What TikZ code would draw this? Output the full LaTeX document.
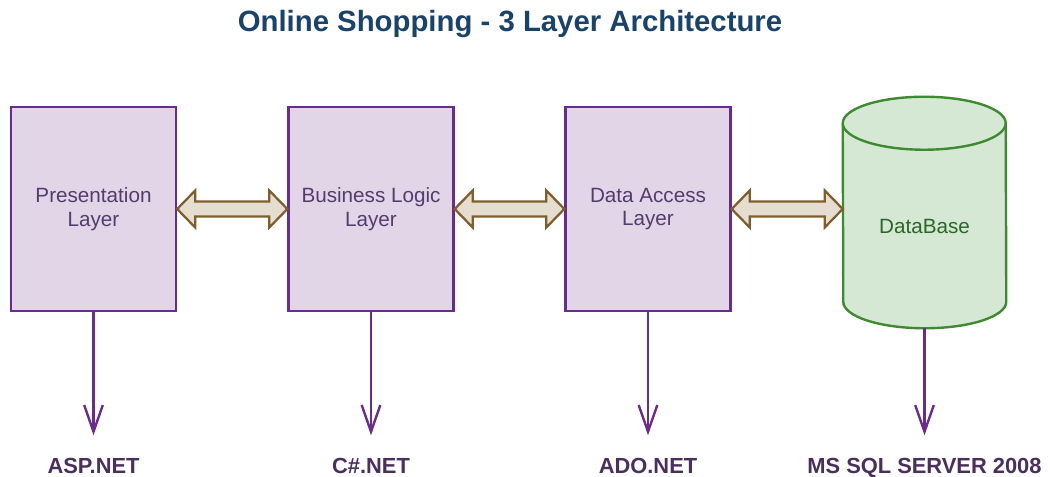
\documentclass[tikz,border=0pt]{standalone}
\usepackage{fontspec}
\setmainfont{Liberation Sans}
\usepackage{tikz}
\usetikzlibrary{calc,arrows.meta}

\definecolor{boxfill}{HTML}{E1D5E7}
\definecolor{boxline}{HTML}{6A2C8C}
\definecolor{boxtext}{HTML}{553C6C}
\definecolor{fatfill}{HTML}{E6DDD1}
\definecolor{fatline}{HTML}{7E5F2C}
\definecolor{dbfill}{HTML}{D5E8D4}
\definecolor{dbline}{HTML}{3D8A31}
\definecolor{dbtext}{HTML}{2C6628}
\definecolor{techtext}{HTML}{4A2E5E}
\definecolor{titletext}{HTML}{1A436C}

\begin{document}
\begin{tikzpicture}[x=0.75pt,y=-0.75pt,
  layer/.style={draw=boxline,fill=boxfill,line width=1.8pt,minimum width=123.75pt,
    minimum height=153pt,align=center,text=boxtext,font=\fontsize{15.5}{17.5}\selectfont},
  fat/.style={draw=fatline,fill=fatfill,line width=1.7pt,line join=miter},
  down/.style={draw=boxline,line width=1.8pt,-{Straight Barb[length=20pt,width=14pt,line width=1.8pt]},shorten >=17pt},
  tech/.style={inner sep=0pt,anchor=north,text=techtext,font=\fontsize{16.4}{18}\selectfont\bfseries}]
  \useasboundingbox (0,0) rectangle (1050,477);
  \node[text=titletext,font=\fontsize{22}{24}\selectfont\bfseries] (title) at (510,24) {Online Shopping - 3 Layer Architecture};
  \node[layer] (b1) at (93.5,209) {Presentation\\Layer};
  \node[layer] (b2) at (371,209) {Business Logic\\Layer};
  \node[layer] (b3) at (648,209) {Data Access\\Layer};
  % database cylinder
  \node[minimum width=122.25pt,minimum height=173.25pt,inner sep=0pt] (db) at (924.5,212.5) {};
  \path[draw=dbline,fill=dbfill,line width=1.8pt] ($(db.north west)+(0,26.5)$)
    arc[start angle=180,end angle=0,x radius=61.125pt,y radius=19.875pt]
    -- ($(db.south east)+(0,-26.5)$)
    arc[start angle=0,end angle=-180,x radius=61.125pt,y radius=19.875pt] -- cycle;
  \path[draw=dbline,line width=1.8pt] ($(db.north west)+(0,26.5)$)
    arc[start angle=180,end angle=360,x radius=61.125pt,y radius=19.875pt];
  \node[text=dbtext,font=\fontsize{15.5}{17.5}\selectfont] (dbtxt) at ($(db.center)+(0,13.5)$) {DataBase};
  % fat arrows
  \foreach \a/\b in {b1/b2,b2/b3,b3/db}{
    \path[fat] (\a.east) -- ++(18,-18.5) -- ++(0,11) -- ($(\b.west|-\a.east)+(-18,-7.5)$)
      -- ++(0,-11) -- (\b.west|-\a.east) -- ++(-18,18.5) -- ++(0,-11)
      -- ($(\a.east)+(18,7.5)$) -- ++(0,11) -- cycle;
  }
  % technologies
  \node[tech] (t1) at (93.5,458) {ASP.NET};
  \node[tech] (t2) at (371,458) {C\#.NET};
  \node[tech] (t3) at (648,458) {ADO.NET};
  \node[tech] (t4) at (924.5,458) {MS SQL SERVER 2008};
  \foreach \a/\b in {b1/t1,b2/t2,b3/t3,db/t4}{
    \path[down] (\a.south) -- (\b.north);
  }
\end{tikzpicture}
\end{document}
